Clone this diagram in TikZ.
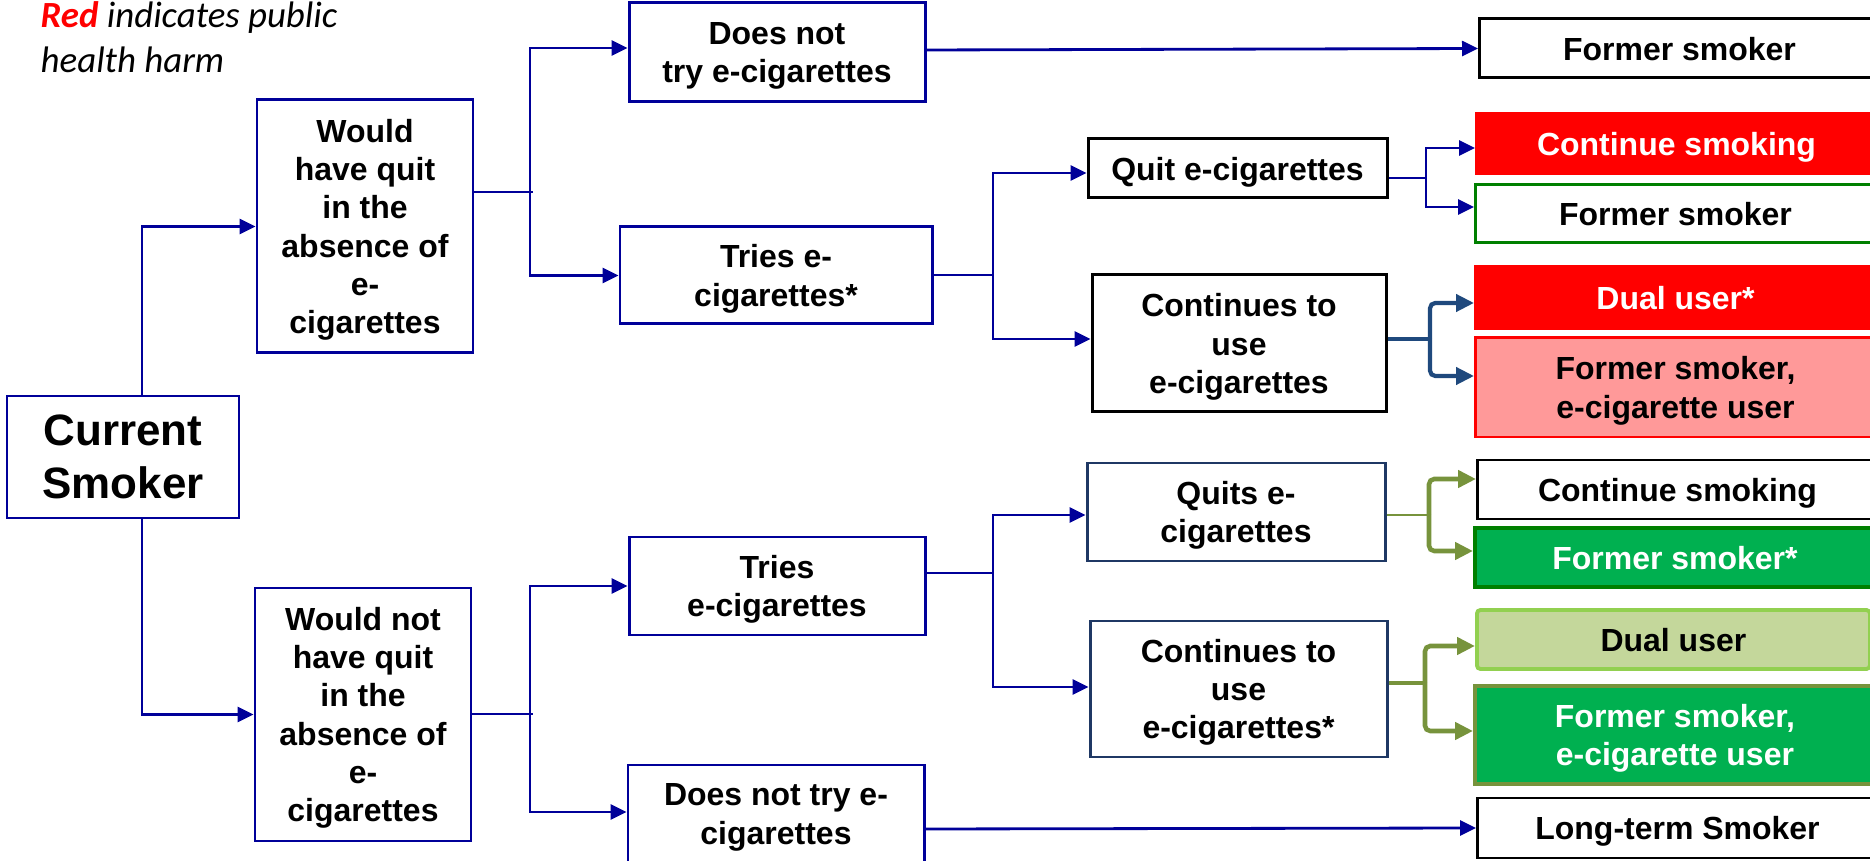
\documentclass[tikz,border=0pt]{standalone}
\usepackage{fontspec}
\setmainfont{Liberation Sans}
\newfontfamily\notefont{Carlito}
\usepackage{tikz}
\usetikzlibrary{arrows.meta,calc}
\definecolor{navyline}{HTML}{000099}
\definecolor{darknavy}{HTML}{1F3864}
\definecolor{steel}{HTML}{1F497D}
\definecolor{oliveline}{HTML}{77933C}
\definecolor{harm}{HTML}{FF0000}
\definecolor{harmpale}{HTML}{FF9999}
\definecolor{benefit}{HTML}{00B050}
\definecolor{darkgreen}{HTML}{008000}
\definecolor{palegreen}{HTML}{C4D79B}
\definecolor{limegreen}{HTML}{92D050}
\newcommand\boxfont{\fontsize{9.1}{10.9}\selectfont\bfseries}
\newcommand\bigfont{\fontsize{12.5}{15}\selectfont\bfseries}
\tikzset{choice/.style={draw=navyline,line width=0.85pt,fill=white,align=center,inner sep=0pt,text depth=0pt,font=\boxfont}, outcome/.style={draw=black,line width=0.85pt,fill=white,align=center,inner sep=0pt,text depth=0pt,anchor=west,minimum width=4cm,font=\boxfont}, link/.style={draw=navyline,line width=0.8pt}, flow/.style={link,-{Triangle[length=1.6mm,width=1.5mm]}}, steelflow/.style={draw=steel,line width=1.2pt,rounded corners=1.5pt,-{Triangle[length=1.8mm,width=1.7mm]}}, oliveflow/.style={draw=oliveline,line width=1.3pt,rounded corners=1.5pt,-{Triangle[length=1.8mm,width=1.7mm]}}}

\begin{document}
\begin{tikzpicture}[x=1cm,y=1cm]
\useasboundingbox (0,0) rectangle (18.70,-8.61);
\node[anchor=north west,inner sep=0pt,align=left,font=\notefont\fontsize{10.5}{12.7}\selectfont\itshape] (note) at (0.40,-0.01) {\textcolor{harm}{\bfseries Red} indicates public\\health harm};
\node[choice,minimum width=2.32cm,minimum height=1.22cm,font=\bigfont] (cur) at (1.23,-4.57) {Current\\Smoker};
\node[choice,minimum width=2.16cm,minimum height=2.53cm] (quitYes) at (3.65,-2.265) {Would\\have quit\\in the\\absence of\\e-\\cigarettes};
\node[choice,minimum width=2.16cm,minimum height=2.53cm] (quitNo) at (3.63,-7.145) {Would not\\have quit\\in the\\absence of\\e-\\cigarettes};
\node[choice,minimum width=2.96cm,minimum height=0.99cm] (noTryA) at (7.77,-0.525) {Does not\\try e-cigarettes};
\node[choice,minimum width=3.12cm,minimum height=0.97cm] (tryA) at (7.76,-2.755) {Tries e-\\cigarettes*};
\node[choice,minimum width=2.96cm,minimum height=0.98cm] (tryB) at (7.77,-5.86) {Tries\\e-cigarettes};
\node[choice,minimum width=2.96cm,minimum height=0.98cm] (noTryB) at (7.76,-8.14) {Does not try e-\\cigarettes};
\node[choice,draw=black,minimum width=2.99cm,minimum height=0.59cm] (quitA) at (12.375,-1.685) {Quit e-cigarettes};
\node[choice,draw=black,minimum width=2.94cm,minimum height=1.37cm] (contA) at (12.39,-3.435) {Continues to\\use\\e-cigarettes};
\node[choice,draw=darknavy,minimum width=2.98cm,minimum height=0.98cm] (quitB) at (12.36,-5.12) {Quits e-\\cigarettes};
\node[choice,draw=darknavy,minimum width=2.97cm,minimum height=1.36cm] (contB) at (12.385,-6.89) {Continues to\\use\\e-cigarettes*};
\node[outcome,minimum height=0.59cm] (formerA) at (14.78,-0.485) {Former smoker};
\node[outcome,draw=harm,fill=harm,text=white,minimum height=0.60cm] (smokeA) at (14.75,-1.44) {Continue smoking};
\node[outcome,draw=darkgreen,minimum height=0.58cm] (formerA2) at (14.74,-2.14) {Former smoker};
\node[outcome,draw=harm,fill=harm,text=white,minimum height=0.62cm] (dualA) at (14.74,-2.98) {Dual user*};
\node[outcome,draw=harm,fill=harmpale,minimum height=0.99cm] (formerEA) at (14.74,-3.875) {Former smoker,\\e-cigarette user};
\node[outcome,minimum height=0.59cm] (smokeB) at (14.76,-4.895) {Continue smoking};
\node[outcome,draw=darkgreen,fill=benefit,text=white,line width=1.1pt,minimum height=0.59cm] (formerB) at (14.73,-5.575) {Former smoker*};
\node[outcome,draw=limegreen,fill=palegreen,line width=1.1pt,rounded corners=1pt,minimum width=3.93cm,minimum height=0.59cm] (dualB) at (14.75,-6.395) {Dual user};
\node[outcome,draw=oliveline,fill=benefit,text=white,line width=1.1pt,minimum height=0.98cm] (formerEB) at (14.73,-7.35) {Former smoker,\\e-cigarette user};
\node[outcome,minimum height=0.60cm] (longB) at (14.76,-8.28) {Long-term Smoker};
\coordinate (jA) at (5.30,-1.92);
\coordinate (jB) at (5.30,-7.14);
\coordinate (jTA) at (9.93,-2.75);
\coordinate (jTB) at (9.93,-5.73);
\coordinate (jQA) at (14.26,-1.78);
\coordinate (jCA) at (14.30,-3.39);
\coordinate (jQB) at (14.29,-5.15);
\coordinate (jCB) at (14.25,-6.83);
\draw[flow] ([xshift=1.9mm]cur.north) |- (quitYes.west);
\draw[flow] ([xshift=1.9mm]cur.south) |- (quitNo.west);
\draw[link] (quitYes.east |- jA) -- ([xshift=0.3mm]jA);
\draw[flow] (jA) |- ([yshift=0.45mm]noTryA.west);
\draw[flow] (jA) |- (tryA.west);
\draw[link] (quitNo.east |- jB) -- ([xshift=0.3mm]jB);
\draw[flow] (jB) |- (tryB.west);
\draw[flow] (jB) |- ([yshift=0.2mm]noTryB.west);
\draw[flow] ([yshift=0.25mm]noTryA.east) -- (formerA.west);
\draw[flow] ([yshift=-1.5mm]noTryB.east) -- (longB.west);
\draw[link] (tryA.east |- jTA) -- (jTA);
\draw[flow] (jTA) |- ([yshift=-0.45mm]quitA.west);
\draw[flow] (jTA) |- ([yshift=0.45mm]contA.west);
\draw[link] (tryB.east |- jTB) -- (jTB);
\draw[flow] (jTB) |- ([yshift=-0.3mm]quitB.west);
\draw[flow] (jTB) |- ([yshift=0.2mm]contB.west);
\draw[link] (quitA.east |- jQA) -- (jQA);
\draw[flow] (jQA) |- ([yshift=-0.4mm]smokeA.west);
\draw[flow] (jQA) |- ([yshift=0.7mm]formerA2.west);
\draw[draw=steel,line width=1pt] (contA.east |- jCA) -- (jCA);
\draw[steelflow] (jCA) |- ([yshift=-0.5mm]dualA.west);
\draw[steelflow] (jCA) |- ([yshift=1.15mm]formerEA.west);
\draw[draw=oliveline,line width=0.8pt] (quitB.east |- jQB) -- (jQB);
\draw[oliveflow] (jQB) |- ([yshift=1.05mm]smokeB.west);
\draw[oliveflow] (jQB) |- ([yshift=0.65mm]formerB.west);
\draw[draw=oliveline,line width=1.1pt] (contB.east |- jCB) -- (jCB);
\draw[oliveflow] (jCB) |- ([yshift=-0.65mm]dualB.west);
\draw[oliveflow] (jCB) |- ([yshift=0.4mm]formerEB.west);
\end{tikzpicture}
\end{document}
